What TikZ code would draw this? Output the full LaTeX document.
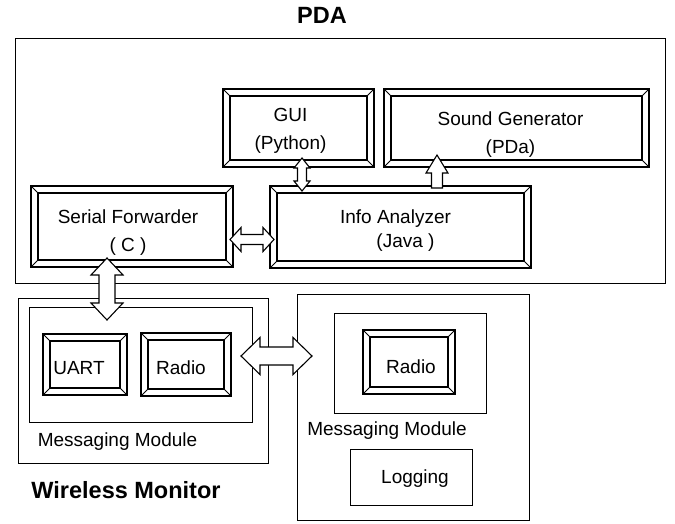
\documentclass[tikz,border=0pt]{standalone}
\usepackage{fontspec}
\setmainfont{Liberation Sans}
\usetikzlibrary{calc}
\newcommand{\mylbl}{\fontsize{19}{28}\selectfont}
\newcommand{\mytitle}{\fontsize{23.5}{28}\selectfont\bfseries}
\tikzset{
  plainbox/.style={draw, line width=1pt, inner sep=0pt, outer sep=0pt},
  bevbox/.style={draw, line width=1.3pt, inner sep=0pt, outer sep=0pt,
    path picture={
      \draw[line width=1.3pt] ([shift={(7pt,-7pt)}]path picture bounding box.north west) rectangle ([shift={(-7pt,7pt)}]path picture bounding box.south east);
      \draw[line width=1pt] (path picture bounding box.north west) -- ++(7pt,-7pt)
        (path picture bounding box.north east) -- ++(-7pt,-7pt)
        (path picture bounding box.south west) -- ++(7pt,7pt)
        (path picture bounding box.south east) -- ++(-7pt,7pt);
    }},
  blockarrow/.style={draw, fill=white, line width=1.1pt, line join=miter},
  lbl/.style={font=\mylbl, inner sep=0pt, align=center},
  ttl/.style={font=\mytitle, inner sep=0pt},
}
\newcommand{\vdarr}[5]{\draw[blockarrow] (#1) -- ($(#1)+(-#3,#5)$) -- ($(#1)+(-#4,#5)$) -- ($(#2)+(-#4,-#5)$) -- ($(#2)+(-#3,-#5)$) -- (#2) -- ($(#2)+(#3,-#5)$) -- ($(#2)+(#4,-#5)$) -- ($(#1)+(#4,#5)$) -- ($(#1)+(#3,#5)$) -- cycle;}
\newcommand{\hdarr}[5]{\draw[blockarrow] (#1) -- ($(#1)+(#5,-#3)$) -- ($(#1)+(#5,-#4)$) -- ($(#2)+(-#5,-#4)$) -- ($(#2)+(-#5,-#3)$) -- (#2) -- ($(#2)+(-#5,#3)$) -- ($(#2)+(-#5,#4)$) -- ($(#1)+(#5,#4)$) -- ($(#1)+(#5,#3)$) -- cycle;}
\newcommand{\uarr}[5]{\draw[blockarrow] (#1) -- ($(#1)+(#3,#5)$) -- ($(#1)+(#4,#5)$) -- ($(#2)+(#4,0)$) -- ($(#2)+(-#4,0)$) -- ($(#1)+(-#4,#5)$) -- ($(#1)+(-#3,#5)$) -- cycle;}
\begin{document}
\begin{tikzpicture}[x=1pt,y=-1pt]
\useasboundingbox (0,0) rectangle (675,523);
% PDA
\node[ttl] (pdat) at (322,15.5) {PDA};
\node[plainbox, minimum width=650pt, minimum height=245pt] (pda) at (340,160.5) {};
\node[bevbox, minimum width=151pt, minimum height=78pt] (gui) at (298.5,128) {};
\node[lbl] (guit) at ([xshift=-8pt,yshift=-3pt]gui.center) {GUI\\(Python)};
\node[bevbox, minimum width=265pt, minimum height=78pt] (sound) at (516.5,128) {};
\node[lbl] (soundt) at ([xshift=-6pt,yshift=-7pt]sound.center) {Sound Generator\\(PDa)};
\node[bevbox, minimum width=202pt, minimum height=81pt] (serial) at (132,226.5) {};
\node[lbl] (serialt) at ([xshift=-4pt,yshift=-6pt]serial.center) {Serial Forwarder\\( C )};
\node[bevbox, minimum width=261pt, minimum height=82pt] (info) at (400.5,227) {};
\node[lbl] (infot) at ([xshift=-5pt,yshift=-4pt]info.center) {Info Analyzer\\[-4pt]\hspace*{20pt}(Java )};
% Wireless monitor
\node[plainbox, minimum width=250pt, minimum height=165pt] (wm) at (143,380.5) {};
\node[plainbox, minimum width=223pt, minimum height=115pt] (mm1) at (140.5,364.5) {};
\node[bevbox, minimum width=84pt, minimum height=61pt] (uart) at (85,364.5) {};
\node[lbl] (uartt) at ([xshift=-6pt,yshift=-4pt]uart.center) {UART};
\node[bevbox, minimum width=90pt, minimum height=63pt] (radio1) at (186,364.5) {};
\node[lbl] (radio1t) at ([xshift=-5pt,yshift=-3pt]radio1.center) {Radio};
\node[lbl] (mm1t) at (117.5,442) {Messaging Module};
\node[ttl] (wmt) at (126,490) {Wireless Monitor};
% right device
\node[plainbox, minimum width=232pt, minimum height=226pt] (rbox) at (413,407) {};
\node[plainbox, minimum width=152pt, minimum height=100pt] (mm2) at (410,363) {};
\node[bevbox, minimum width=92pt, minimum height=64pt] (radio2) at (409,362) {};
\node[lbl] (radio2t) at ([xshift=2pt,yshift=-5pt]radio2.center) {Radio};
\node[lbl] (mm2t) at (387,431) {Messaging Module};
\node[plainbox, minimum width=122pt, minimum height=56pt] (logging) at (411,477) {};
\node[lbl] (loggingt) at ([xshift=4pt,yshift=-2pt]logging.center) {Logging};
% arrows
\coordinate (a1t) at ([xshift=3.5pt,yshift=9pt]gui.south);
\path (a1t |- info.north) ++(0,5) coordinate (a1b);
\vdarr{a1t}{a1b}{8}{4.5}{10}
\path (info.north) ++(36.5,2) coordinate (a2b);
\path (a2b |- sound.south) ++(0,-12) coordinate (a2t);
\uarr{a2t}{a2b}{11}{5.5}{18}
\path (serial.east) ++(-3,13) coordinate (a3l);
\path (a3l -| info.west) ++(4,0) coordinate (a3r);
\hdarr{a3l}{a3r}{12}{5}{11}
\path (serial.south) ++(-25,-9) coordinate (a4t);
\path (a4t |- mm1.north) ++(0,13) coordinate (a4b);
\vdarr{a4t}{a4b}{16}{8}{17}
\path (radio1.east) ++(10,-8.5) coordinate (a5l);
\path (a5l -| rbox.west) ++(15,0) coordinate (a5r);
\hdarr{a5l}{a5r}{18.5}{9}{19}
\end{tikzpicture}
\end{document}
